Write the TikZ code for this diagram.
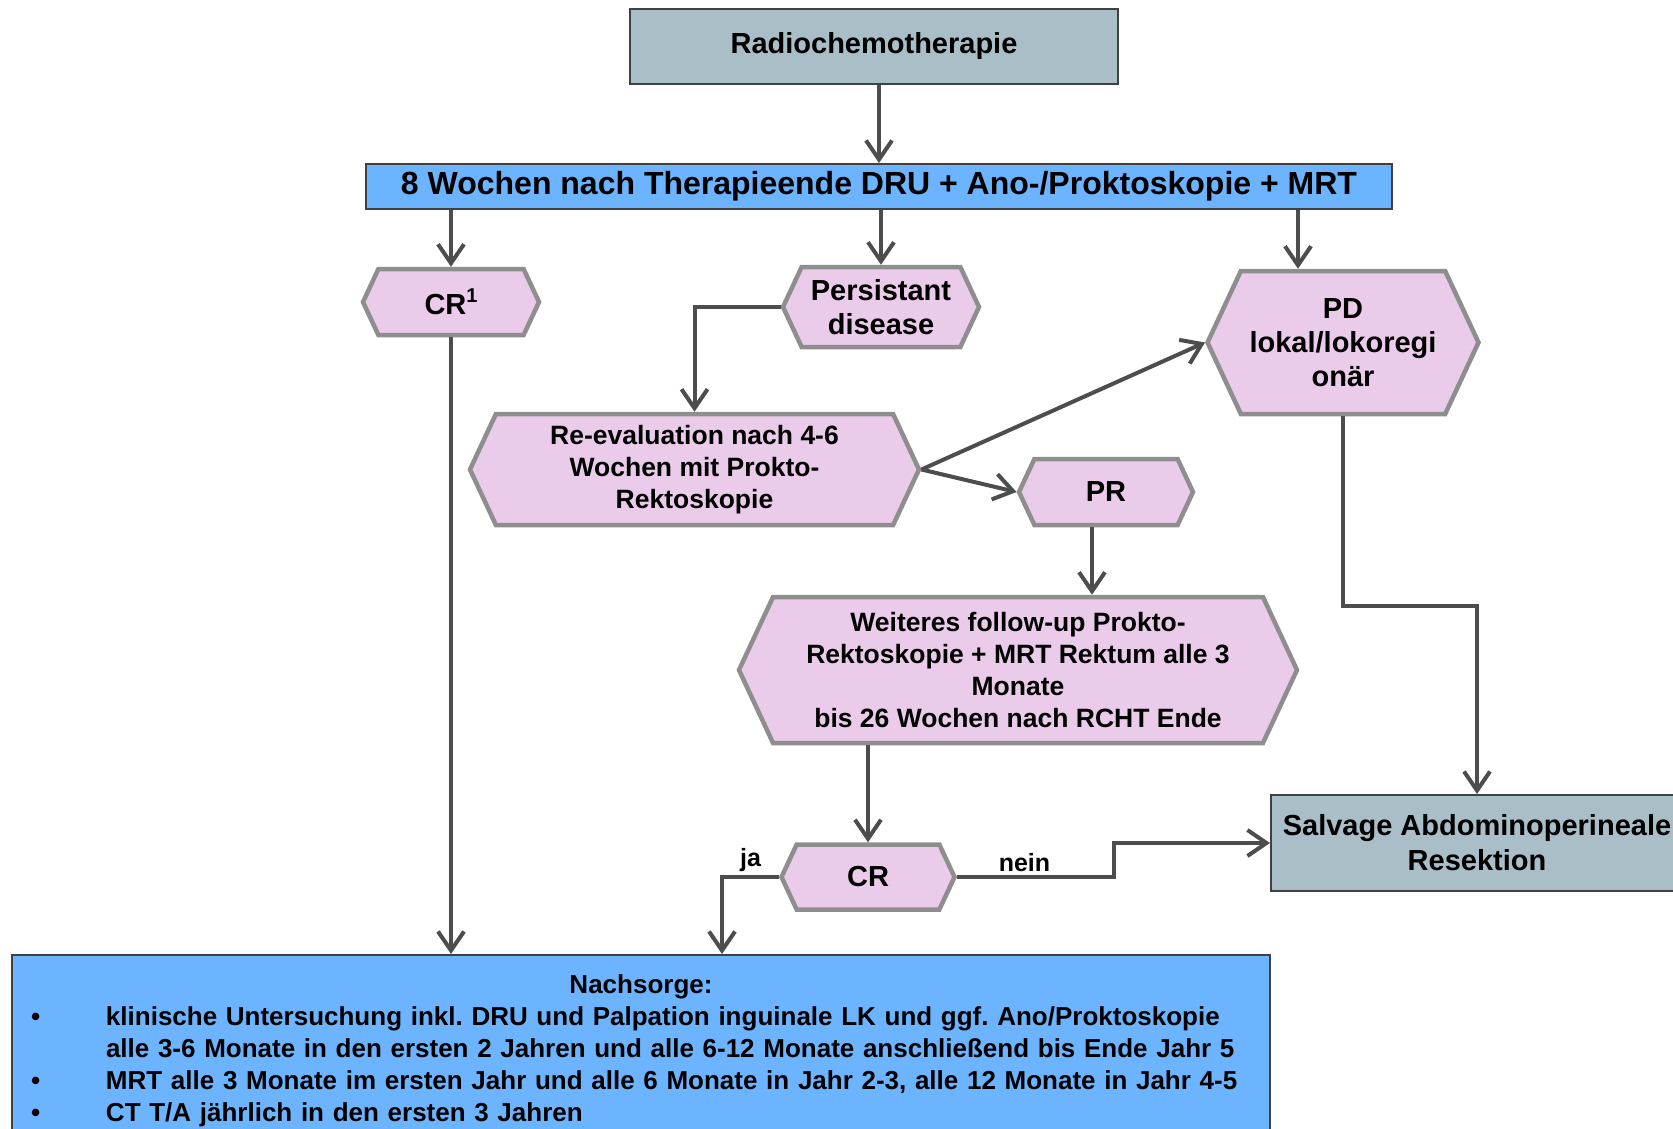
\documentclass[tikz,border=0pt]{standalone}
\usepackage{fontspec}
\setmainfont{Liberation Sans}
\usetikzlibrary{shapes.symbols,arrows.meta,positioning}

\definecolor{slate}{RGB}{170,190,200}
\definecolor{skyblue}{RGB}{108,180,255}
\definecolor{lilac}{RGB}{235,203,234}
\definecolor{hexline}{RGB}{142,142,142}
\definecolor{linegray}{RGB}{77,77,77}
\definecolor{boxline}{RGB}{64,64,64}

\frenchspacing

\begin{document}
\begin{tikzpicture}[x=1pt, y=-1pt,
    hexbox/.style={signal, signal to=east and west, signal pointer angle=130,
                draw=hexline, line width=4.5pt, fill=lilac, inner sep=0pt,
                align=center, font=\fontsize{29}{34}\selectfont\bfseries},
    smalltext/.style={font=\fontsize{26.5}{32}\selectfont\bfseries},
    greybox/.style={rectangle, draw=boxline, line width=2pt, fill=slate,
                align=center, font=\fontsize{29}{35}\selectfont\bfseries},
    bluebox/.style={rectangle, draw=boxline, line width=2pt, fill=skyblue},
    conn/.style={draw=linegray, line width=4pt},
    arr/.style={conn, -{Straight Barb[length=19pt, width=26pt]}},
    lbl/.style={font=\fontsize{25}{30}\selectfont\bfseries, above, inner sep=3pt}
]
\useasboundingbox (0,0) rectangle (1673,1128);
\clip (0,0) rectangle (1673,1128);

% Boxes
\node[greybox, minimum width=488pt, minimum height=75pt] (radio) at (874,46) {Radiochemotherapie};
\node[bluebox, minimum width=1026pt, minimum height=45pt,
      font=\fontsize{32}{38}\selectfont\bfseries] (bar) at (879,186.5)
      {8 Wochen nach Therapieende DRU + Ano-/Proktoskopie + MRT};
\node[hexbox, minimum width=176pt, minimum height=66pt]  (cr1)    at (451,302)
      {CR\raisebox{0.42em}{\fontsize{20}{20}\selectfont 1}};
\node[hexbox, minimum width=196pt, minimum height=80pt]  (pers)   at (881,307)     {Persistant\\disease};
\node[hexbox, minimum width=271pt, minimum height=143pt] (pd)     at (1343,342.5)  {PD\\lokal/lokoregi\\onär};
\node[hexbox, smalltext, minimum width=449pt, minimum height=111pt] (reeval) at (694.5,469.5)
      {Re-evaluation nach 4-6\\Wochen mit Prokto-\\Rektoskopie};
\node[hexbox, minimum width=174pt, minimum height=66pt]  (pr)     at (1106,492)    {PR};
\node[hexbox, smalltext, minimum width=558pt, minimum height=146pt] (weit) at (1018,670)
      {Weiteres follow-up Prokto-\\Rektoskopie + MRT Rektum alle 3\\Monate\\bis 26 Wochen nach RCHT Ende};
\node[hexbox, minimum width=173pt, minimum height=65pt]  (cr)     at (868,877)     {CR};
\node[greybox, minimum width=412pt, minimum height=96pt] (salv)   at (1477,843)    {Salvage Abdominoperineale\\Resektion};

% Nachsorge
\node[bluebox, anchor=north west, text width=1220pt, inner xsep=19pt, inner ysep=20pt,
      align=left, font=\fontsize{26}{32}\selectfont\bfseries] (nach) at (11,954) {%
  \makebox[\hsize]{Nachsorge:}\\
  \mbox{\makebox[75pt][l]{•}klinische Untersuchung inkl. DRU und Palpation inguinale LK und ggf. Ano/Proktoskopie}\\
  \mbox{\hspace*{75pt}alle 3-6 Monate in den ersten 2 Jahren und alle 6-12 Monate anschließend bis Ende Jahr 5}\\
  \mbox{\makebox[75pt][l]{•}MRT alle 3 Monate im ersten Jahr und alle 6 Monate in Jahr 2-3, alle 12 Monate in Jahr 4-5}\\
  \mbox{\makebox[75pt][l]{•}CT T/A jährlich in den ersten 3 Jahren}\\
  \strut};

% Connectors
\draw[arr] (radio.south -| bar.north) -- (bar.north);
\draw[arr] (bar.south -| cr1.north) -- (cr1.north);
\draw[arr] (bar.south -| pers.north) -- (pers.north);
\draw[arr] ([xshift=-45pt]pd.north |- bar.south) -- ([xshift=-45pt]pd.north);
\draw[arr] (pers.west) -| (reeval.north);
\draw[arr] (reeval.east) -- (pd.west);
\draw[arr] (reeval.east) -- (pr.west);
\draw[arr] ([xshift=-14pt]pr.south) -- ([xshift=-14pt]pr.south |- weit.north);
\draw[arr] (pd.south) -- ++(0,190) -| (salv.north);
\draw[arr] (weit.south -| cr.north) -- (cr.north);
\draw[arr] (cr.east) -- ++(157,0) node[lbl, pos=0.43] {nein} |- (salv.west);
\coordinate (jaknick) at ([xshift=-57pt]cr.west);
\draw[arr] (cr.west) -- (jaknick) node[lbl, midway] {ja} -- (jaknick |- nach.north);
\draw[arr] (cr1.south) -- (cr1.south |- nach.north);

\end{tikzpicture}
\end{document}
